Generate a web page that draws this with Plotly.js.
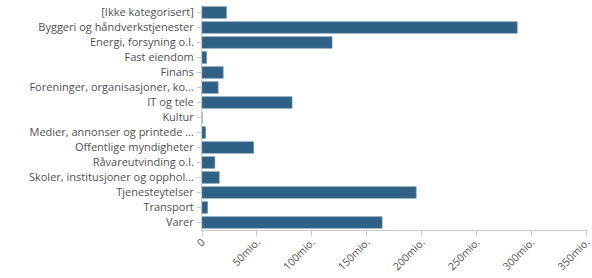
<!DOCTYPE html>
<html>
<head>
<meta charset="utf-8">
<script src="https://cdn.plot.ly/plotly-3.0.1.min.js"></script>
<style>html,body{margin:0;padding:0;background:#fff;}#chart{width:592px;height:278px;}</style>
</head>
<body>
<div id="chart"></div>
<script>
const categories = [
  "[Ikke kategorisert]",
  "Byggeri og håndverkstjenester",
  "Energi, forsyning o.l.",
  "Fast eiendom",
  "Finans",
  "Foreninger, organisasjoner, ko…",
  "IT og tele",
  "Kultur",
  "Medier, annonser og printede …",
  "Offentlige myndigheter",
  "Råvareutvinding o.l.",
  "Skoler, institusjoner og opphol…",
  "Tjenesteytelser",
  "Transport",
  "Varer"
];
const values = [22.3, 287, 118.4, 4.2, 19.3, 14.7, 82, 0.1, 3.3, 47, 11.7, 15.7, 195, 5.1, 164];
const tickVals = [0, 50, 100, 150, 200, 250, 300, 350];
const tickLabels = ["0", "50mio.", "100mio.", "150mio.", "200mio.", "250mio.", "300mio.", "350mio."];

const font = {family: "Open Sans, Noto Sans, sans-serif", size: 11, color: "#505050"};
const xfont = {family: "Open Sans, Noto Sans, sans-serif", size: 10.5, color: "#505050"};

Plotly.newPlot("chart", [{
  type: "bar",
  orientation: "h",
  y: categories,
  x: values.map(v => v * 1e6),
  marker: {color: "#2f6187", line: {color: "#6f93ad", width: 0.6}},
  width: 0.78,
  hoverinfo: "none"
}], {
  width: 592,
  height: 278,
  margin: {l: 202, r: 5, t: 5, b: 48},
  paper_bgcolor: "#fff",
  plot_bgcolor: "#fff",
  font: font,
  showlegend: false,
  xaxis: {
    range: [0, 350.5e6],
    tickvals: tickVals.map(v => v * 1e6),
    ticktext: tickLabels,
    tickangle: -45,
    ticklabeloverflow: "allow",
    showgrid: false,
    zeroline: false,
    showline: true,
    linecolor: "#c8c8c8",
    linewidth: 1,
    ticks: "outside",
    ticklen: 5,
    tickcolor: "#c8c8c8",
    tickfont: xfont,
    ticklabelstandoff: -4,
    fixedrange: true
  },
  yaxis: {
    autorange: "reversed",
    showgrid: false,
    zeroline: false,
    showline: true,
    linecolor: "#c8c8c8",
    linewidth: 1,
    ticks: "outside",
    ticklen: 4,
    tickcolor: "#c8c8c8",
    tickfont: font,
    ticklabelstandoff: 1,
    fixedrange: true
  }
}, {displayModeBar: false, staticPlot: true});
</script>
</body>
</html>
